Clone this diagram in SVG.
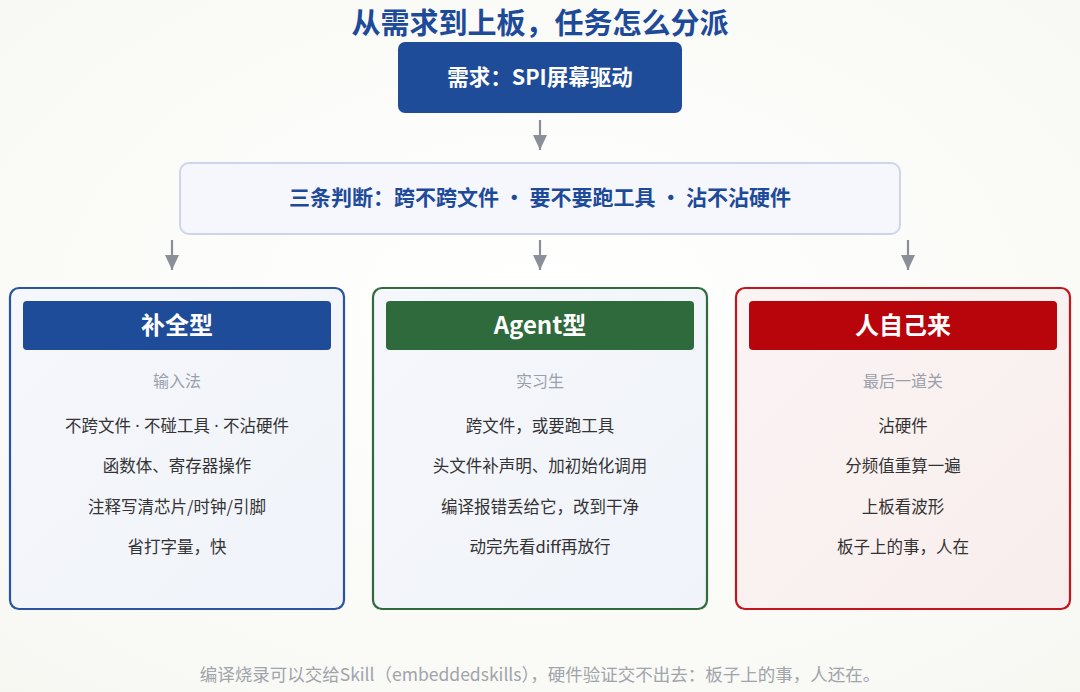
<svg xmlns="http://www.w3.org/2000/svg" width="1080" height="692" viewBox="0 0 1080 692">
  <defs>
    <radialGradient id="bg" cx="50%" cy="45%" r="75%">
      <stop offset="0" stop-color="#ffffff"/>
      <stop offset="1" stop-color="#f7f7f2"/>
    </radialGradient>
    <linearGradient id="redfill" x1="0" y1="0" x2="1" y2="1">
      <stop offset="0" stop-color="#fbf4f4"/>
      <stop offset="1" stop-color="#f8eded"/>
    </linearGradient>
    <linearGradient id="bluefill" x1="0" y1="0" x2="1" y2="1">
      <stop offset="0" stop-color="#f5f7fc"/>
      <stop offset="1" stop-color="#f0f3f9"/>
    </linearGradient>
    <marker id="arr" viewBox="0 0 15 14" refX="15" refY="7" markerWidth="15" markerHeight="14" markerUnits="userSpaceOnUse" orient="auto">
      <path d="M0,0 L15,7 L0,14 Z" fill="#8a8f99"/>
    </marker>
  </defs>
  <style>
    .cjk { font-family: "Noto Sans CJK SC", "Noto Sans", sans-serif; }
    .title { font-size: 29px; font-weight: 700; fill: #1e4a9a; }
    .head { font-size: 24px; font-weight: 700; fill: #ffffff; }
    .sub { font-size: 16px; fill: #9aa0aa; }
    .line { font-size: 16.5px; fill: #333333; }
    .foot { font-size: 17.5px; fill: #a0a4ab; }
    .dot { font-family: "Noto Sans", sans-serif; }
    .conn { stroke: #8a8f99; stroke-width: 2.2; fill: none; }
  </style>
  <rect width="1080" height="692" fill="url(#bg)"/>

  <text class="cjk title" x="540" y="34" text-anchor="middle">从需求到上板，任务怎么分派</text>

  <g id="node-req">
    <rect x="398" y="42" width="284" height="71" rx="7" fill="#1f4c99"/>
    <text class="cjk" x="540" y="85" text-anchor="middle" font-size="21.5" font-weight="700" fill="#ffffff">需求：SPI屏幕驱动</text>
  </g>

  <g id="node-judge">
    <rect x="180" y="163" width="720" height="71" rx="9" fill="#f6f7fc" stroke="#cdd6e8" stroke-width="2"/>
    <text class="cjk" x="540" y="205" text-anchor="middle" font-size="21" font-weight="700" fill="#1e4a9a">三条判断：跨不跨文件 • 要不要跑工具 • 沾不沾硬件</text>
  </g>

  <g id="connectors">
    <line class="conn" x1="540" y1="120" x2="540" y2="150" marker-end="url(#arr)"/>
    <line class="conn" x1="172" y1="240" x2="172" y2="270" marker-end="url(#arr)"/>
    <line class="conn" x1="540" y1="240" x2="540" y2="270" marker-end="url(#arr)"/>
    <line class="conn" x1="908" y1="240" x2="908" y2="270" marker-end="url(#arr)"/>
  </g>

  <g id="card-complete">
    <rect x="10" y="288" width="334" height="321" rx="9" fill="url(#bluefill)" stroke="#2a54a0" stroke-width="2.2"/>
    <rect x="23" y="301" width="308" height="49" rx="4" fill="#1f4c99"/>
    <text class="cjk head" x="177" y="334" text-anchor="middle">补全型</text>
    <text class="cjk sub" x="177" y="387" text-anchor="middle">输入法</text>
    <text class="cjk line" x="177" y="432" text-anchor="middle">不跨文件<tspan class="dot"> · </tspan>不碰工具<tspan class="dot"> · </tspan>不沾硬件</text>
    <text class="cjk line" x="177" y="472" text-anchor="middle">函数体、寄存器操作</text>
    <text class="cjk line" x="177" y="513" text-anchor="middle">注释写清芯片/时钟/引脚</text>
    <text class="cjk line" x="177" y="553" text-anchor="middle">省打字量，快</text>
  </g>

  <g id="card-agent">
    <rect x="373" y="288" width="334" height="321" rx="9" fill="url(#bluefill)" stroke="#2f6b3c" stroke-width="2.2"/>
    <rect x="386" y="301" width="308" height="49" rx="4" fill="#2e6a3b"/>
    <text class="cjk head" x="540" y="334" text-anchor="middle">Agent型</text>
    <text class="cjk sub" x="540" y="387" text-anchor="middle">实习生</text>
    <text class="cjk line" x="540" y="432" text-anchor="middle">跨文件，或要跑工具</text>
    <text class="cjk line" x="540" y="472" text-anchor="middle">头文件补声明、加初始化调用</text>
    <text class="cjk line" x="540" y="513" text-anchor="middle">编译报错丢给它，改到干净</text>
    <text class="cjk line" x="540" y="553" text-anchor="middle">动完先看diff再放行</text>
  </g>

  <g id="card-human">
    <rect x="736" y="288" width="334" height="321" rx="9" fill="url(#redfill)" stroke="#c0161c" stroke-width="2.2"/>
    <rect x="749" y="301" width="308" height="49" rx="4" fill="#b8050c"/>
    <text class="cjk head" x="903" y="334" text-anchor="middle">人自己来</text>
    <text class="cjk sub" x="903" y="387" text-anchor="middle">最后一道关</text>
    <text class="cjk line" x="903" y="432" text-anchor="middle">沾硬件</text>
    <text class="cjk line" x="903" y="472" text-anchor="middle">分频值重算一遍</text>
    <text class="cjk line" x="903" y="513" text-anchor="middle">上板看波形</text>
    <text class="cjk line" x="903" y="553" text-anchor="middle">板子上的事，人在</text>
  </g>

  <text class="cjk foot" x="540" y="681" text-anchor="middle">编译烧录可以交给Skill（embeddedskills），硬件验证交不出去：板子上的事，人还在。</text>
</svg>
